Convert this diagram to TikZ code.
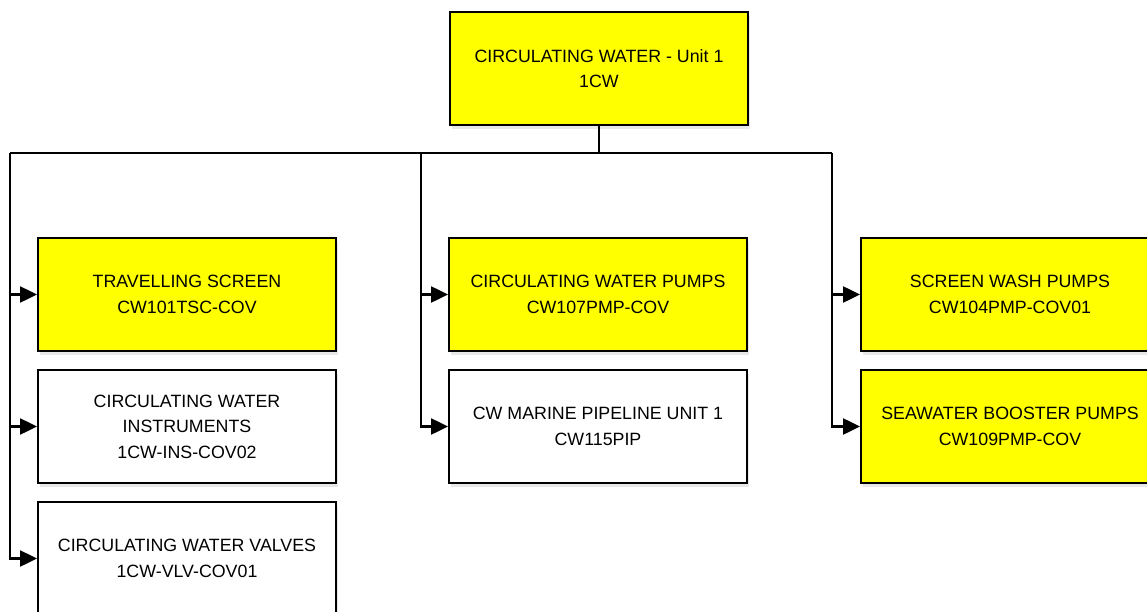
\documentclass[tikz,border=0pt]{standalone}
\usepackage{fontspec}
\setmainfont{Liberation Sans}
\usetikzlibrary{arrows.meta,shadows}
\definecolor{boxyellow}{RGB}{255,255,0}
\tikzset{
  unitbox/.style={draw=black, line width=2pt, minimum width=298pt, minimum height=113pt,
    inner sep=0pt, align=center, font=\fontsize{17.8}{25.5}\selectfont,
    drop shadow={shadow xshift=2pt, shadow yshift=-4pt, fill=black!15, opacity=0.6}},
  yellowbox/.style={unitbox, fill=boxyellow},
  whitebox/.style={unitbox, fill=white},
  bus/.style={line width=2.5pt, draw=black},
  feed/.style={line width=2.5pt, draw=black, -{Triangle[length=17pt,width=16pt]}}
}
\begin{document}
\begin{tikzpicture}[x=1pt,y=-1pt]
\useasboundingbox (0,0) rectangle (1147,612);
\clip (0,0) rectangle (1147,612);
\fill[white] (0,0) rectangle (1147,612);

% root system
\node[yellowbox] (root) at (599,68.5) {CIRCULATING WATER - Unit 1\\1CW};

% first column
\node[yellowbox] (ts)   at (187,294.5) {TRAVELLING SCREEN\\CW101TSC-COV};
\node[whitebox]  (ins)  at (187,426.5) {CIRCULATING WATER\\INSTRUMENTS\\1CW-INS-COV02};
\node[whitebox]  (vlv)  at (187,558.5) {CIRCULATING WATER VALVES\\1CW-VLV-COV01};

% second column
\node[yellowbox] (pmp)  at (598,294.5) {CIRCULATING WATER PUMPS\\CW107PMP-COV};
\node[whitebox]  (pip)  at (598,426.5) {CW MARINE PIPELINE UNIT 1\\CW115PIP};

% third column
\node[yellowbox] (swp)  at (1010,294.5) {SCREEN WASH PUMPS\\CW104PMP-COV01};
\node[yellowbox] (sbp)  at (1010,426.5) {SEAWATER BOOSTER PUMPS\\CW109PMP-COV};

% distribution bus
\coordinate (b1) at (10,153);
\coordinate (b2) at (421,153);
\coordinate (b3) at (832,153);
\draw[bus] (root.south) -- (root.south |- b1);
\draw[bus] (b1) -- (b3);

% branches
\draw[feed] (b1) |- (ts.west);
\draw[feed] (b1) |- (ins.west);
\draw[feed] (b1) |- (vlv.west);
\draw[feed] (b2) |- (pmp.west);
\draw[feed] (b2) |- (pip.west);
\draw[feed] (b3) |- (swp.west);
\draw[feed] (b3) |- (sbp.west);
\end{tikzpicture}
\end{document}
